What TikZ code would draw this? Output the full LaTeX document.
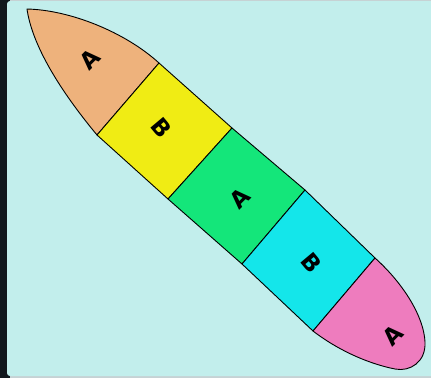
\documentclass[tikz,border=0pt]{standalone}
\usepackage{fontspec}
\setmainfont{DejaVu Sans}
\definecolor{bgc}{HTML}{C2EEEC}
\definecolor{darkstrip}{HTML}{11181D}
\definecolor{edgegray}{HTML}{C6D2D4}
\definecolor{peach}{HTML}{EEB27C}
\definecolor{yel}{HTML}{F0EC14}
\definecolor{grn}{HTML}{14E67A}
\definecolor{cyn}{HTML}{14E6EA}
\definecolor{pnk}{HTML}{EE7CBE}
\tikzset{
  part/.style={draw=black, line width=0.9pt, line join=round},
  letter/.style={font=\fontsize{23}{23}\selectfont\bfseries, inner sep=0pt, text=black}
}
\begin{document}
\begin{tikzpicture}[x=1pt,y=-1pt]
\useasboundingbox (0,0) rectangle (431,378);
\fill[edgegray] (0,0) rectangle (431,378);
\fill[darkstrip] (0,0) rectangle (10,378);
\fill[bgc, rounded corners=3pt] (7,1) rectangle (440,376);
\coordinate (p1t) at (159,63);
\coordinate (p1b) at (97,135);
\coordinate (p2t) at (232,128);
\coordinate (p2b) at (168,199);
\coordinate (p3t) at (305,190);
\coordinate (p3b) at (242,264);
\coordinate (p4t) at (375,258);
\coordinate (p4b) at (313,331);
\coordinate (tip) at (27,9);
% peach nose
\filldraw[part, fill=peach] (p1t) -- (p1b) .. controls (58,88) and (32,44) .. (tip)
  .. controls (70,10) and (125,32) .. (p1t) -- cycle;
% squares
\filldraw[part, fill=yel] (p1t) -- (p2t) -- (p2b) -- (p1b) -- cycle;
\filldraw[part, fill=grn] (p2t) -- (p3t) -- (p3b) -- (p2b) -- cycle;
\filldraw[part, fill=cyn] (p3t) -- (p4t) -- (p4b) -- (p3b) -- cycle;
% pink end
\filldraw[part, fill=pnk] (p4t) .. controls (405,285) and (424,318) .. (425,342)
  .. controls (426,362) and (410,372) .. (395,369)
  .. controls (365,363) and (335,348) .. (p4b) -- cycle;
% letters
\node[letter, rotate=45] (a1) at (90,59) {A};
\node[letter, rotate=-50] (b1) at (162,128) {B};
\node[letter, rotate=45] (a2) at (240,198) {A};
\node[letter, rotate=-50] (b2) at (312,263) {B};
\node[letter, rotate=45] (a3) at (393,335) {A};
\end{tikzpicture}
\end{document}
